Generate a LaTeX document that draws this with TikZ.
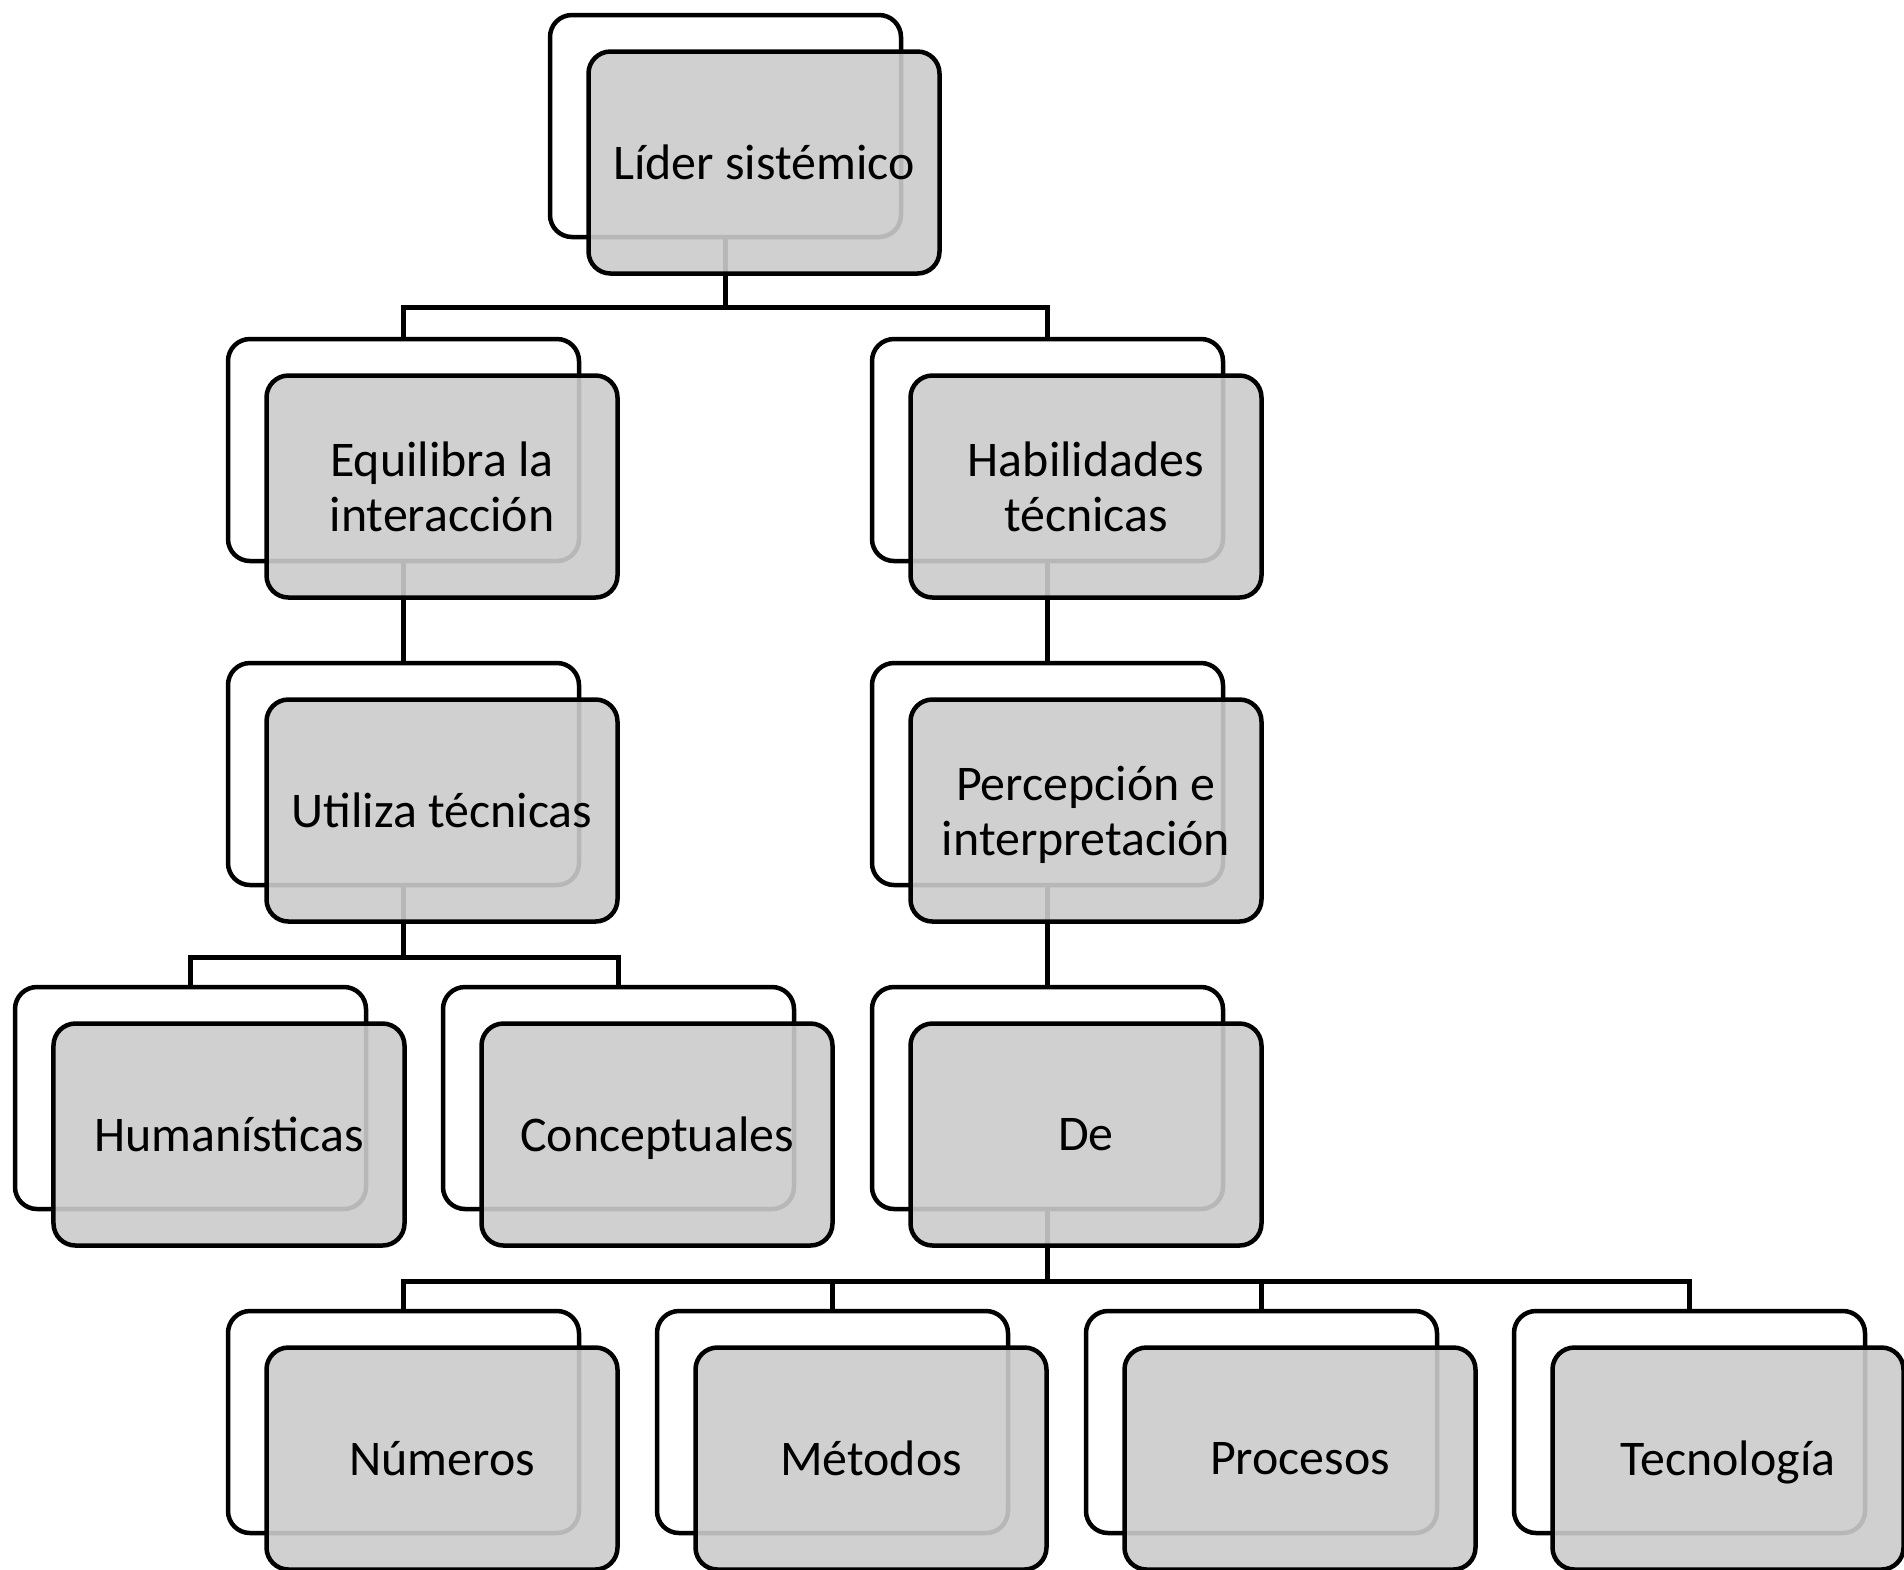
\documentclass[tikz,border=0pt]{standalone}
\usepackage{fontspec}
\setmainfont{Carlito}
\usepackage{tikz}
\definecolor{relleno}{RGB}{203,203,203}
\tikzstyle{fondo} = [rectangle, rounded corners=0.22cm, minimum width=3.51cm, minimum height=2.22cm, draw=black, fill=white, line width=0.045cm]
\tikzstyle{caja} = [rectangle, rounded corners=0.22cm, minimum width=3.51cm, minimum height=2.22cm, align=center, text depth=0pt, draw=black, fill=relleno, fill opacity=0.9, text opacity=1, line width=0.045cm]
\tikzstyle{linea} = [line width=0.045cm]

\begin{document}
\begin{tikzpicture}[font=\fontsize{14.2pt}{15.6pt}\selectfont]
\useasboundingbox (0,0) rectangle (19.04,-15.69);
\node (l0) at (7.255,-1.26) [fondo] {};
\node (e0) at (4.035,-4.50) [fondo] {};
\node (h0) at (10.475,-4.50) [fondo] {};
\node (u0) at (4.035,-7.74) [fondo] {};
\node (p0) at (10.475,-7.74) [fondo] {};
\node (hu0) at (1.905,-10.98) [fondo] {};
\node (c0) at (6.185,-10.98) [fondo] {};
\node (d0) at (10.475,-10.98) [fondo] {};
\node (n0) at (4.035,-14.22) [fondo] {};
\node (m0) at (8.325,-14.22) [fondo] {};
\node (pr0) at (12.615,-14.22) [fondo] {};
\node (t0) at (16.895,-14.22) [fondo] {};
\draw[linea] (l0.south) -- ++(0,-0.68) -| (e0.north);
\draw[linea] (l0.south) -- ++(0,-0.68) -| (h0.north);
\draw[linea] (e0.south) -- (u0.north);
\draw[linea] (h0.south) -- (p0.north);
\draw[linea] (u0.south) -- ++(0,-0.7) -| (hu0.north);
\draw[linea] (u0.south) -- ++(0,-0.7) -| (c0.north);
\draw[linea] (p0.south) -- (d0.north);
\draw[linea] (d0.south) -- ++(0,-0.7) -| (n0.north);
\draw[linea] (d0.south) -- ++(0,-0.7) -| (m0.north);
\draw[linea] (d0.south) -- ++(0,-0.7) -| (pr0.north);
\draw[linea] (d0.south) -- ++(0,-0.7) -| (t0.north);
\node (l) at (7.64,-1.625) [caja] {Líder sistémico};
\node (e) at (4.42,-4.865) [caja] {Equilibra la\\interacción};
\node (h) at (10.86,-4.865) [caja] {Habilidades\\técnicas};
\node (u) at (4.42,-8.105) [caja] {Utiliza técnicas};
\node (p) at (10.86,-8.105) [caja] {Percepción e\\interpretación};
\node (hu) at (2.29,-11.345) [caja] {Humanísticas};
\node (c) at (6.57,-11.345) [caja] {Conceptuales};
\node (d) at (10.86,-11.345) [caja] {De};
\node (n) at (4.42,-14.585) [caja] {Números};
\node (m) at (8.71,-14.585) [caja] {Métodos};
\node (pr) at (13.00,-14.585) [caja] {Procesos};
\node (t) at (17.28,-14.585) [caja] {Tecnología};
\end{tikzpicture}
\end{document}
